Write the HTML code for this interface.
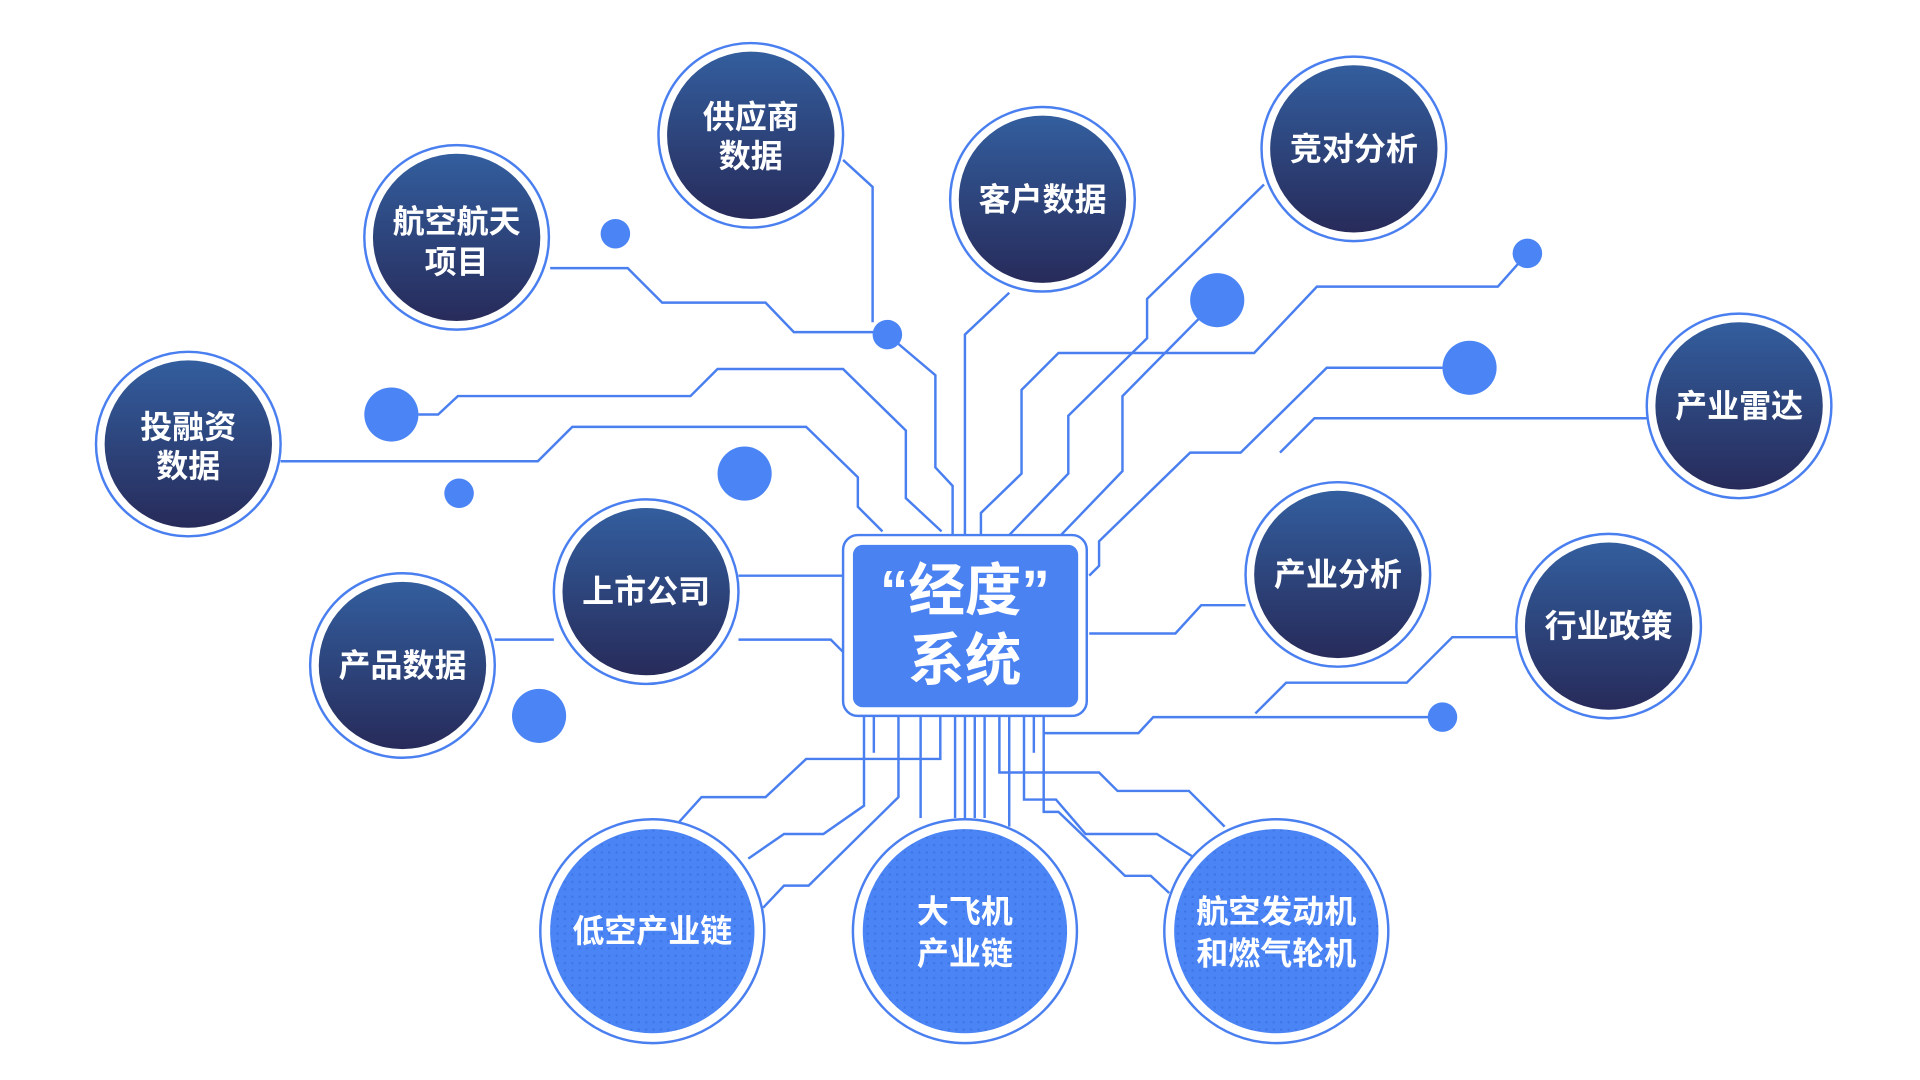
<!DOCTYPE html>
<html><head><meta charset="utf-8"><style>
html,body{margin:0;padding:0;background:#fff;}
svg{display:block}
text{font-family:"Liberation Sans","Noto Sans CJK SC",sans-serif;font-weight:bold;fill:#fff;text-anchor:middle;dominant-baseline:central}
</style></head><body>
<svg width="1920" height="1080" viewBox="0 0 1560 878" preserveAspectRatio="none" xmlns="http://www.w3.org/2000/svg">
<defs>
<linearGradient id="dk" x1="0" y1="0" x2="0" y2="1">
<stop offset="0" stop-color="#335e9e"/><stop offset="1" stop-color="#272b5a"/></linearGradient>
<pattern id="dots" width="6" height="6" patternUnits="userSpaceOnUse"><rect width="6" height="6" fill="#4a84f5"/><circle cx="3" cy="3" r="1" fill="#3f76e6"/></pattern>
</defs>
<g fill="none" stroke="#4a7ff0" stroke-width="2">
<polyline points="447,218 510,218 538,246 622,246 645,270 721,270"/>
<polyline points="721,272 760,305 760,380 774,395 774,435"/>
<polyline points="685,130 709,152 709,262"/>
<polyline points="820,238 784,272 784,435"/>
<polyline points="1027,150 932,243 932,275 868,338 868,385 820,435"/>
<polyline points="989,244 912,322 912,383 862,435"/>
<polyline points="1241,206 1217,233 1070,233 1019,287 860,287 830,317 830,385 797,417 797,435"/>
<polyline points="1172,299 1078,299 1008,368 967,368 893,440 893,460 885,468"/>
<polyline points="1338,340 1068,340 1040,368"/>
<polyline points="228,375 437,375 465,347 655,347 697,388 697,412 717,432"/>
<polyline points="340,337 356,337 372,322 561,322 583,300 685,300 736,350 736,405 765,432"/>
<polyline points="600,468 685,468"/>
<polyline points="600,520 675,520 685,530"/>
<polyline points="402,520 450,520"/>
<polyline points="885,515 955,515 976,492 1012,492"/>
<polyline points="1232,518 1180,518 1143,555 1045,555 1020,580"/>
<polyline points="1172,583 937,583 925,596 848,596"/>
<polyline points="764,582 764,617 655,617 622,648 570,648 552,668"/>
<polyline points="702,582 702,655 669,678 637,678 608,698"/>
<polyline points="730,582 730,648 657,720 637,720 620,738"/>
<polyline points="710,582 710,612"/>
<polyline points="748,582 748,665"/>
<polyline points="776,582 776,665"/>
<polyline points="784,582 784,665"/>
<polyline points="792,582 792,665"/>
<polyline points="800,582 800,665"/>
<polyline points="812,582 812,628 893,628 908,643 966,643 995,672"/>
<polyline points="820,582 820,672"/>
<polyline points="832,582 832,650 858,650 882,678 940,678 970,697"/>
<polyline points="840,582 840,612"/>
<polyline points="848,582 848,660 860,660 914,712 935,712 950,726"/>
</g>
<g fill="#4a84f5">
<circle cx="500" cy="190" r="12"/><circle cx="721" cy="272" r="12"/><circle cx="318" cy="337" r="22"/>
<circle cx="373" cy="401" r="12"/><circle cx="605" cy="385" r="22"/><circle cx="989" cy="244" r="22"/>
<circle cx="1241" cy="206" r="12"/><circle cx="1194" cy="299" r="22"/><circle cx="438" cy="582" r="22"/>
<circle cx="1172" cy="583" r="12"/>
</g>
<g stroke="#4a7ff0" stroke-width="2">
<g fill="#fff">
<circle cx="610" cy="110" r="75"/><circle cx="371" cy="193" r="75"/><circle cx="847" cy="162" r="75"/>
<circle cx="1100" cy="121" r="75"/><circle cx="1413" cy="330" r="75"/><circle cx="153" cy="361" r="75"/>
<circle cx="525" cy="481" r="75"/><circle cx="327" cy="541" r="75"/><circle cx="1087" cy="467" r="75"/>
<circle cx="1307" cy="509" r="75"/>
<circle cx="530" cy="757" r="91"/><circle cx="784" cy="757" r="91"/><circle cx="1037" cy="757" r="91"/>
</g>
</g>
<g fill="url(#dk)">
<circle cx="610" cy="110" r="68"/><circle cx="371" cy="193" r="68"/><circle cx="847" cy="162" r="68"/>
<circle cx="1100" cy="121" r="68"/><circle cx="1413" cy="330" r="68"/><circle cx="153" cy="361" r="68"/>
<circle cx="525" cy="481" r="68"/><circle cx="327" cy="541" r="68"/><circle cx="1087" cy="467" r="68"/>
<circle cx="1307" cy="509" r="68"/>
</g>
<g fill="url(#dots)">
<circle cx="530" cy="757" r="83"/><circle cx="784" cy="757" r="83"/><circle cx="1037" cy="757" r="83"/>
</g>
<rect x="685" y="435" width="198" height="147" rx="12" fill="#fff" stroke="#4a7ff0" stroke-width="2"/>
<rect x="693" y="443" width="183" height="132" rx="8" fill="#4a82f2"/>
<g font-size="26">
<text x="610" y="95">供应商</text><text x="610" y="127">数据</text>
<text x="371" y="180">航空航天</text><text x="371" y="213">项目</text>
<text x="847" y="162">客户数据</text>
<text x="1100" y="121">竞对分析</text>
<text x="1413" y="330">产业雷达</text>
<text x="153" y="347">投融资</text><text x="153" y="379">数据</text>
<text x="525" y="481">上市公司</text>
<text x="327" y="541">产品数据</text>
<text x="1087" y="467">产业分析</text>
<text x="1307" y="509">行业政策</text>
<text x="530" y="757">低空产业链</text>
<text x="784" y="741">大飞机</text><text x="784" y="775">产业链</text>
<text x="1037" y="741">航空发动机</text><text x="1037" y="775">和燃气轮机</text>
</g>
<g font-size="46">
<text x="784" y="480">“经度”</text><text x="784" y="537">系统</text>
</g>
</svg>
</body></html>
